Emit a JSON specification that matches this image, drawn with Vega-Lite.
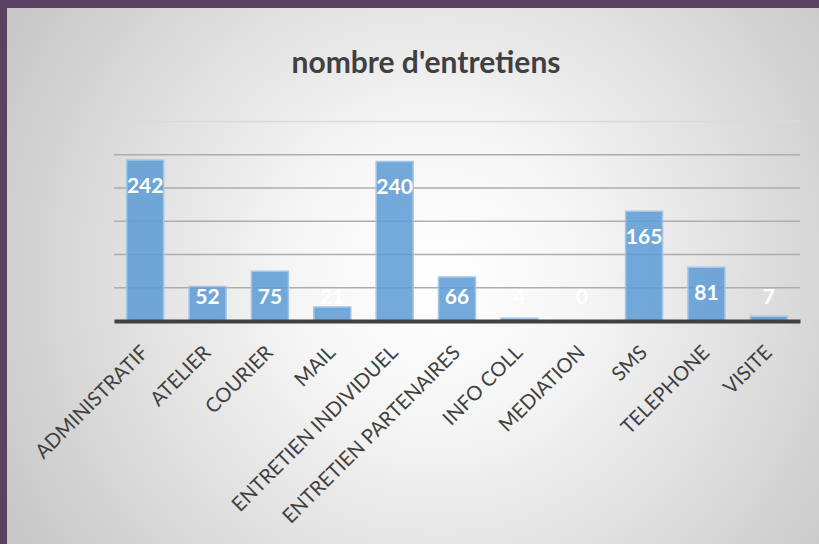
{
  "$schema": "https://vega.github.io/schema/vega-lite/v6.json",
  "width": 812,
  "height": 536,
  "autosize": {"type": "none"},
  "padding": {"left": 7, "top": 8, "right": 0, "bottom": 0},
  "background": "#5c4262",
  "config": {"view": {"stroke": null}},
  "title": {
    "text": "nombre d'entretiens",
    "font": "Lato",
    "fontSize": 30,
    "fontWeight": "bold",
    "color": "#404040",
    "anchor": "middle",
    "frame": "group",
    "offset": -95,
    "dx": 13,
    "baseline": "alphabetic"
  },
  "datasets": {
    "bars": [
      {"categorie": "ADMINISTRATIF", "n": 242},
      {"categorie": "ATELIER", "n": 52},
      {"categorie": "COURIER", "n": 75},
      {"categorie": "MAIL", "n": 21},
      {"categorie": "ENTRETIEN INDIVIDUEL", "n": 240},
      {"categorie": "ENTRETIEN PARTENAIRES", "n": 66},
      {"categorie": "INFO COLL", "n": 4},
      {"categorie": "MEDIATION", "n": 0},
      {"categorie": "SMS", "n": 165},
      {"categorie": "TELEPHONE", "n": 81},
      {"categorie": "VISITE", "n": 7}
    ],
    "grid": [{"g": 50}, {"g": 100}, {"g": 150}, {"g": 200}, {"g": 250}, {"g": 300}]
  },
  "resolve": {"scale": {"x": "independent", "y": "independent"}},
  "layer": [
    {
      "data": {"values": [{"bg": 1}]},
      "mark": {
        "type": "rect",
        "fill": {
          "gradient": "radial",
          "x1": 0.53, "y1": 0.5, "r1": 0,
          "x2": 0.53, "y2": 0.5, "r2": 0.62,
          "stops": [
            {"offset": 0, "color": "#ffffff"},
            {"offset": 0.3, "color": "#f5f5f5"},
            {"offset": 1, "color": "#c6c6c6"}
          ]
        }
      },
      "encoding": {}
    },
    {
      "data": {"name": "grid"},
      "mark": {"type": "rule", "strokeWidth": 1.5},
      "encoding": {
        "x": {"datum": 0, "type": "quantitative", "scale": {"domain": [0, 1], "range": [107, 793], "zero": false, "nice": false}, "axis": null},
        "x2": {"datum": 1},
        "y": {"field": "g", "type": "quantitative", "scale": {"domain": [0, 300], "range": [313, 113.5], "zero": false, "nice": false}, "axis": null},
        "color": {"condition": {"test": "datum.g == 300", "value": "#dadada"}, "value": "#adadad"}
      }
    },
    {
      "data": {"name": "bars"},
      "mark": {"type": "bar", "fill": "#5b9bd5", "fillOpacity": 0.85, "stroke": "#a3c6e8", "strokeWidth": 1.5},
      "encoding": {
        "x": {
          "field": "categorie", "type": "nominal", "sort": null,
          "scale": {"range": [107, 793], "paddingInner": 0.407, "paddingOuter": 0.2035},
          "axis": {
            "title": null,
            "offset": -223,
            "zindex": 1,
            "domainColor": "#404040",
            "domainWidth": 4,
            "ticks": false,
            "tickSize": 0,
            "labelFont": "Lato",
            "labelFontSize": 20,
            "labelColor": "#404040",
            "labelAngle": -45,
            "labelAlign": "right",
            "labelBaseline": "top",
            "labelPadding": 21,
            "labelOffset": -7,
            "labelOverlap": false,
            "labelLimit": 400
          }
        },
        "y": {"field": "n", "type": "quantitative", "scale": {"domain": [0, 300], "range": [313, 113.5], "zero": false, "nice": false}, "axis": null}
      }
    },
    {
      "data": {"name": "bars"},
      "mark": {"type": "text", "font": "Lato", "fontSize": 21, "fontWeight": "bold", "color": "#ffffff", "align": "center", "baseline": "middle", "dy": 27},
      "encoding": {
        "x": {"field": "categorie", "type": "nominal", "sort": null, "scale": {"range": [107, 793], "paddingInner": 0.407, "paddingOuter": 0.2035}, "axis": null},
        "y": {"field": "n", "type": "quantitative", "scale": {"domain": [0, 75, 300], "range": [263.125, 263.125, 113.5], "zero": false, "nice": false}, "axis": null},
        "text": {"field": "n", "type": "quantitative"}
      }
    }
  ]
}
